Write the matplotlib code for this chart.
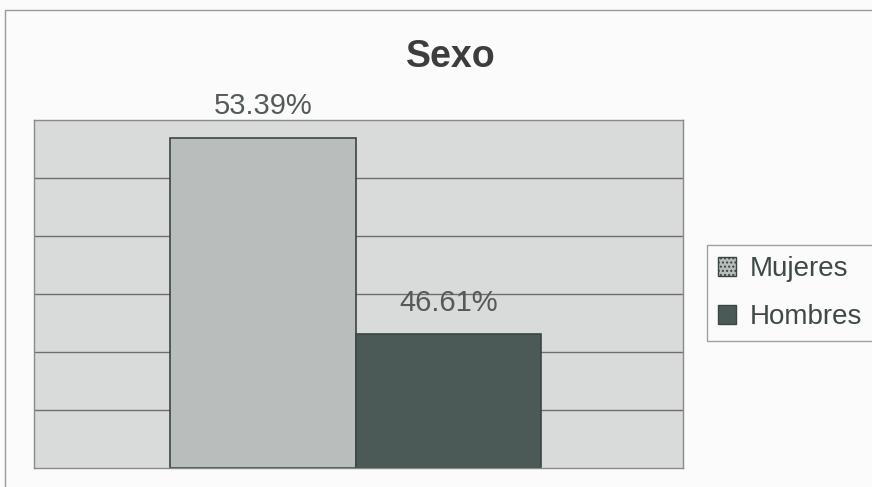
import matplotlib
matplotlib.use("Agg")
import matplotlib.pyplot as plt
from matplotlib.patches import Rectangle, Patch

series = ["Mujeres", "Hombres"]
values = [53.39, 46.61]
labels = ["53.39%", "46.61%"]
colors = ["#b9bdbc", "#4b5957"]
y_min, y_max, y_step = 42, 54, 2

W, H = 872, 487
fig = plt.figure(figsize=(W / 100, H / 100), dpi=100, facecolor="#fbfbfb")

# chart area border (left and top visible)
fig.patches.append(Rectangle((5 / W, -0.1), 1.2, (H - 10) / H + 0.1,
                             transform=fig.transFigure, fill=False,
                             edgecolor="#9a9a9a", linewidth=1.0))

ax = fig.add_axes([34 / W, (H - 468) / H, (683 - 34) / W, (468 - 120) / H])
ax.set_facecolor("#d9dbda")
ax.set_xlim(-0.496, 0.504)
ax.set_ylim(y_min, y_max)
for yv in range(y_min + y_step, y_max, y_step):
    ax.axhline(yv, color="#6e6e6e", linewidth=1.0, zorder=1)

w = 1 / 3.5
for i, (s, v, lab, c) in enumerate(zip(series, values, labels, colors)):
    x = (i - 0.5) * w
    ax.bar(x, v - y_min, bottom=y_min, width=w, color=c, edgecolor="#3a4644",
           linewidth=1.2, zorder=2, label=s)
    ax.text(x, v + 0.8, lab, ha="center", va="baseline", fontsize=21,
            color="#545a5a", family="Liberation Sans")

ax.set_xticks([])
ax.set_yticks([])
for sp in ax.spines.values():
    sp.set_color("#8a8a8a")
    sp.set_linewidth(1.0)

fig.text(451 / W, 1 - 67 / H, "Sexo", ha="center", va="baseline", fontsize=27,
         fontweight="bold", color="#3d3d3d", family="Liberation Sans")

handles = [Patch(facecolor=colors[0], edgecolor="#3a4644", hatch="...."),
           Patch(facecolor=colors[1], edgecolor="#3a4644")]
leg = fig.legend(handles, series, loc="upper left",
                 bbox_to_anchor=(707 / W, 1 - 245 / H), frameon=True,
                 fancybox=False, handlelength=0.65,
                 handleheight=0.65, handletextpad=0.5, borderpad=0.4,
                 labelspacing=0.8, borderaxespad=0,
                 prop={"family": "Liberation Sans", "size": 20})
leg.get_frame().set_edgecolor("#8a8a8a")
leg.get_frame().set_linewidth(1.0)
leg.get_frame().set_facecolor("#fbfbfb")
for t in leg.get_texts():
    t.set_color("#3f4a48")

fig.savefig("out.png", dpi=100, facecolor=fig.get_facecolor())
